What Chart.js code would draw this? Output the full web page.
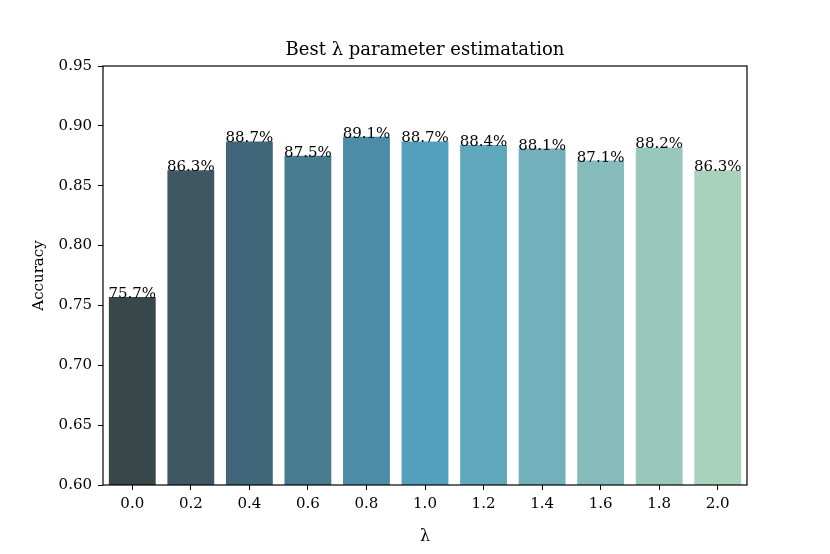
<!DOCTYPE html>
<html>
<head>
<meta charset="utf-8">
<script src="https://cdn.jsdelivr.net/npm/chart.js@4"></script>
<style>
  body { margin: 0; background: #fff; }
  #wrap { width: 830px; height: 554px; }
</style>
</head>
<body>
<div id="wrap"><canvas id="lambdaChart" width="830" height="554"></canvas></div>
<script>
const lambdas = ["0.0", "0.2", "0.4", "0.6", "0.8", "1.0", "1.2", "1.4", "1.6", "1.8", "2.0"];
const accuracy = [0.757, 0.863, 0.887, 0.875, 0.891, 0.887, 0.884, 0.881, 0.871, 0.882, 0.863];
const barColors = ["#37474a", "#3e5760", "#41667a", "#477b8e", "#4c8ca6", "#52a0bd",
                   "#60a9bc", "#73b0bb", "#85bcbb", "#98c7bc", "#a9d2bd"];
const yTicks = [0.60, 0.65, 0.70, 0.75, 0.80, 0.85, 0.90, 0.95];
const chartTitle = "Best λ parameter estimatation";

const serif = "'DejaVu Serif', 'Liberation Serif', serif";

// box round the plot area, title over it, percentage labels on top of bars
const framePlugin = {
    id: "frame",
    afterDatasetsDraw(chart) {
        const { ctx, chartArea: a } = chart;
        ctx.save();
        ctx.strokeStyle = "#000";
        ctx.lineWidth = 1.2;
        ctx.strokeRect(a.left, a.top, a.right - a.left, a.bottom - a.top);

        ctx.fillStyle = "#000";
        ctx.textAlign = "center";
        ctx.textBaseline = "alphabetic";
        ctx.font = "18px " + serif;
        ctx.fillText(chartTitle, (a.left + a.right) / 2, a.top - 11);

        const meta = chart.getDatasetMeta(0);
        ctx.font = "15px " + serif;
        meta.data.forEach((bar, i) => {
            const txt = (accuracy[i] * 100).toFixed(1) + "%";
            ctx.fillText(txt, bar.x, bar.y + 1);
        });
        ctx.restore();
    }
};

new Chart(document.getElementById("lambdaChart").getContext("2d"), {
    type: "bar",
    data: {
        labels: lambdas,
        datasets: [{
            data: accuracy,
            backgroundColor: barColors,
            borderWidth: 0,
            categoryPercentage: 0.8,
            barPercentage: 1.0
        }]
    },
    options: {
        responsive: false,
        animation: false,
        layout: { padding: { left: 30, right: 83, top: 66, bottom: 8 } },
        plugins: {
            legend: { display: false },
            tooltip: { enabled: false },
            title: { display: false }
        },
        scales: {
            x: {
                grid: { display: true, drawOnChartArea: false, offset: false, color: "#000", tickLength: 5 },
                border: { display: false },
                ticks: { color: "#000", font: { family: serif, size: 15 }, padding: 5 },
                title: { display: true, text: "λ", color: "#000", font: { family: serif, size: 16 }, padding: { top: 3, bottom: 0 } },
                afterFit(scale) { scale.height = 61; }
            },
            y: {
                min: 0.6,
                max: 0.95,
                afterBuildTicks(scale) { scale.ticks = yTicks.map(v => ({ value: v })); },
                grid: { display: true, drawOnChartArea: false, color: "#000", tickLength: 5 },
                border: { display: false },
                ticks: {
                    color: "#000",
                    font: { family: serif, size: 15 },
                    padding: 6,
                    callback: v => v.toFixed(2)
                },
                title: { display: true, text: "Accuracy", color: "#000", font: { family: serif, size: 15 }, padding: { top: 0, bottom: 4 } },
                afterFit(scale) { scale.width = 73; }
            }
        }
    },
    plugins: [framePlugin]
});
</script>
</body>
</html>
